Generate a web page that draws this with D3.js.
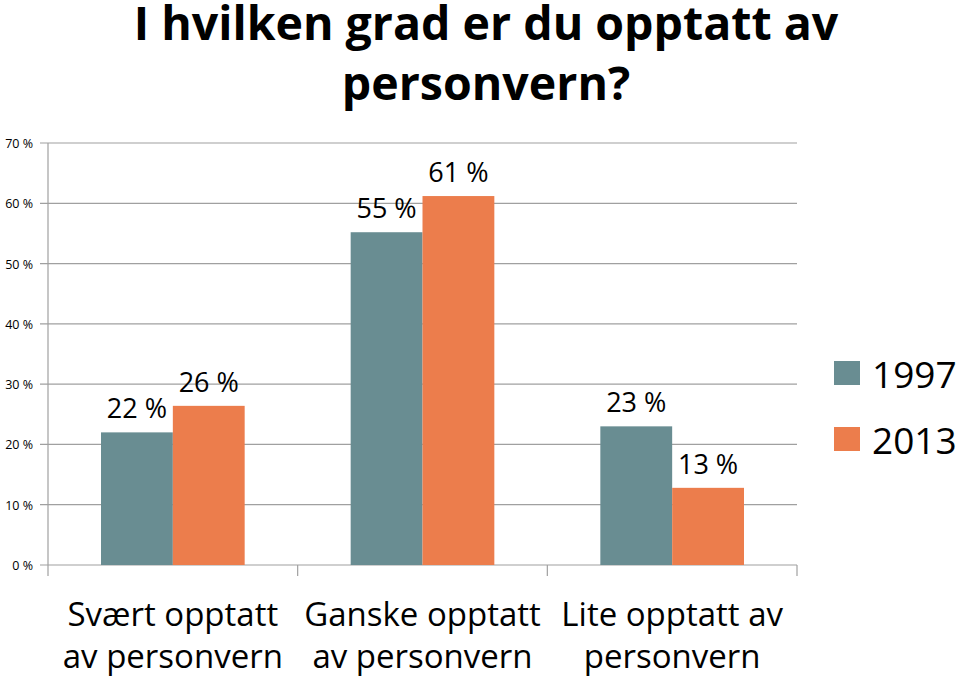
<!DOCTYPE html>
<html><head><meta charset="utf-8">
<script src="https://cdn.jsdelivr.net/npm/d3@7"></script>
<style>body{margin:0;background:#fff}svg{display:block}</style>
</head><body>
<svg id="c" width="960" height="679"></svg>
<script>
const categories = [["Svært opptatt","av personvern"],["Ganske opptatt","av personvern"],["Lite opptatt av","personvern"]];
const seriesNames = ["1997","2013"];
const values1997 = [22, 55.2, 23];
const values2013 = [26.4, 61.2, 12.8];
const yTicks = [0,10,20,30,40,50,60,70];
const titleLines = ["I hvilken grad er du opptatt av","personvern?"];
const colors = ["#698d92","#ec7d4c"];

const svg = d3.select("#c");
const font = "'Open Sans', Lato, sans-serif";
const x0 = d3.scaleBand().domain(d3.range(categories.length)).range([48,797]).paddingInner(0).paddingOuter(0);
const x1 = d3.scaleBand().domain(seriesNames).range([53, x0.bandwidth()-53]);
const y = d3.scaleLinear().domain([0,70]).range([565,143]);

// gridlines
svg.append("g").selectAll("line").data(yTicks).join("line")
  .attr("x1",40).attr("x2",797).attr("y1",d=>y(d)).attr("y2",d=>y(d))
  .attr("stroke","#a0a0a0").attr("stroke-width",1.2);
// y axis line
svg.append("line").attr("x1",48).attr("x2",48).attr("y1",143).attr("y2",565).attr("stroke","#a0a0a0").attr("stroke-width",1.2);
// y tick labels
svg.append("g").selectAll("text").data(yTicks).join("text")
  .attr("x",33).attr("y",d=>y(d)+5).attr("text-anchor","end")
  .attr("font-family",font).attr("font-size",12.5).attr("fill","#000")
  .text(d=>d+" %");
// x ticks
const xt = d3.range(categories.length+1).map(i=> i<categories.length ? x0(i) : x0(i-1)+x0.bandwidth());
svg.append("g").selectAll("line").data(xt).join("line")
  .attr("x1",d=>d).attr("x2",d=>d).attr("y1",565).attr("y2",576)
  .attr("stroke","#a0a0a0").attr("stroke-width",1.2);

const rows = categories.map((c,i)=>({i, vals:[values1997[i], values2013[i]]}));
const g = svg.append("g").selectAll("g").data(rows).join("g").attr("transform",d=>`translate(${x0(d.i)},0)`);
g.selectAll("rect").data(d=>d.vals.map((v,k)=>({v,k}))).join("rect")
  .attr("x",d=>x1(seriesNames[d.k])).attr("width",x1.bandwidth())
  .attr("y",d=>y(d.v)).attr("height",d=>y(0)-y(d.v)).attr("fill",d=>colors[d.k]);
g.selectAll("text").data(d=>d.vals.map((v,k)=>({v,k}))).join("text")
  .attr("x",d=>x1(seriesNames[d.k])+x1.bandwidth()/2).attr("y",d=>y(d.v)-14)
  .attr("text-anchor","middle").attr("font-family",font).attr("font-size",27).attr("fill","#000")
  .text(d=>d3.format(".0f")(d.v)+" %");

// category labels
const cl = svg.append("g").selectAll("text").data(categories).join("text")
  .attr("x",(d,i)=>x0(i)+x0.bandwidth()/2).attr("text-anchor","middle")
  .attr("font-family",font).attr("font-size",33).attr("fill","#000");
cl.selectAll("tspan").data(d=>d).join("tspan")
  .attr("x",function(){return this.parentNode.getAttribute("x");})
  .attr("y",(d,j)=>626+j*42).text(d=>d);

// title
svg.append("g").selectAll("text").data(titleLines).join("text")
  .attr("x",486).attr("y",(d,i)=>40+i*60).attr("text-anchor","middle")
  .attr("font-family",font).attr("font-weight","bold").attr("font-size",46.5).attr("fill","#000")
  .text(d=>d);

// legend
const lg = svg.append("g").selectAll("g").data(seriesNames).join("g")
  .attr("transform",(d,i)=>`translate(834,${361+i*66})`);
lg.append("rect").attr("width",26).attr("height",24).attr("fill",(d,i)=>colors[i]);
lg.append("text").attr("x",38).attr("y",27).attr("font-family",font).attr("font-size",37).attr("fill","#000").text(d=>d);
</script>
</body></html>
